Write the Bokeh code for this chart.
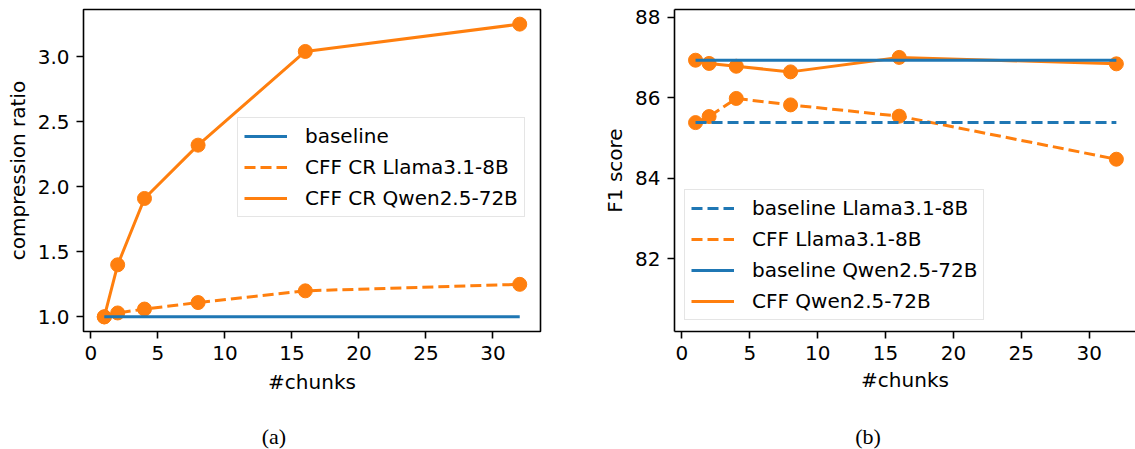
from bokeh.plotting import figure
from bokeh.models import (Range1d, FixedTicker, PrintfTickFormatter, Legend,
                          LegendItem, LinearAxis, Div)
from bokeh.layouts import row, column
from bokeh.embed import file_html
from bokeh.resources import INLINE

# ---------------- data ----------------
chunks = [1, 2, 4, 8, 16, 32]

# (a) compression ratio
cr_baseline = [1.0, 1.0, 1.0, 1.0, 1.0, 1.0]
cr_llama = [1.00, 1.03, 1.06, 1.11, 1.20, 1.25]
cr_qwen = [1.00, 1.40, 1.91, 2.32, 3.04, 3.25]

# (b) F1 score
f1_base_llama = [85.38, 85.38, 85.38, 85.38, 85.38, 85.38]
f1_cff_llama = [85.38, 85.53, 85.98, 85.82, 85.54, 84.47]
f1_base_qwen = [86.93, 86.93, 86.93, 86.93, 86.93, 86.93]
f1_cff_qwen = [86.93, 86.85, 86.78, 86.64, 87.00, 86.84]

x_ticks = [0, 5, 10, 15, 20, 25, 30]
cr_ticks = [1.0, 1.5, 2.0, 2.5, 3.0]
f1_ticks = [82, 84, 86, 88]

legend_a = ["baseline", "CFF CR Llama3.1-8B", "CFF CR Qwen2.5-72B"]
legend_b = ["baseline Llama3.1-8B", "CFF Llama3.1-8B",
            "baseline Qwen2.5-72B", "CFF Qwen2.5-72B"]
captions = ["(a)", "(b)"]

# ---------------- style ----------------
BLUE = "#1f77b4"
ORANGE = "#ff7f0e"
FONT = "DejaVu Sans"
FS = "20px"
LW = 3
DASH = "11 5"
MS = 14


def style_axes(p):
    for ax in p.axis:
        ax.major_label_text_font = FONT
        ax.major_label_text_font_size = FS
        ax.major_label_text_color = "black"
        ax.axis_label_text_font = FONT
        ax.axis_label_text_font_size = FS
        ax.axis_label_text_font_style = "normal"
        ax.axis_label_text_color = "black"
        ax.major_tick_out = 7
        ax.major_tick_in = 0
        ax.minor_tick_out = 0
        ax.minor_tick_in = 0
        ax.major_tick_line_width = 1.6
        ax.major_tick_line_color = "black"
        ax.major_label_standoff = 7
        ax.axis_line_width = 1.6
        ax.axis_line_color = "black"
    p.xgrid.visible = False
    p.ygrid.visible = False
    p.background_fill_color = "white"
    p.border_fill_color = "white"


def make_legend(items, loc):
    return Legend(items=items, location=loc, label_text_font=FONT,
                  label_text_font_size=FS, label_text_color="black",
                  glyph_width=43, glyph_height=20, label_height=20,
                  label_standoff=18, spacing=7, padding=6, margin=0,
                  border_line_color="#cccccc", border_line_width=1.5,
                  background_fill_color="white", background_fill_alpha=0.8)


def caption_div(text, width, left, inner_width):
    html = ('<div style="margin-left:%dpx; width:%dpx; padding-top:16px; '
            'font-family:\'Liberation Serif\', serif; font-size:22px; '
            'line-height:22px; text-align:center; color:black;">%s</div>'
            % (left, inner_width, text))
    return Div(text=html, width=width, height=39, margin=0)


# ---------------- (a) ----------------
p1 = figure(width=560, height=410, x_range=Range1d(-0.55, 33.55),
            y_range=Range1d(0.8875, 3.3625),
            min_border_left=83, min_border_right=20, min_border_top=9,
            min_border_bottom=78, toolbar_location=None,
            output_backend="svg")
p1.outline_line_color = "black"
p1.outline_line_width = 1.6

r_llama = p1.line(chunks, cr_llama, line_color=ORANGE, line_width=LW,
                  line_dash=DASH)
p1.scatter(chunks, cr_llama, size=MS, fill_color=ORANGE, line_color=ORANGE,
           line_width=1)
r_qwen = p1.line(chunks, cr_qwen, line_color=ORANGE, line_width=LW)
p1.scatter(chunks, cr_qwen, size=MS, fill_color=ORANGE, line_color=ORANGE,
           line_width=1)
r_base = p1.line(chunks, cr_baseline, line_color=BLUE, line_width=LW)

p1.xaxis.ticker = FixedTicker(ticks=x_ticks)
p1.yaxis.ticker = FixedTicker(ticks=cr_ticks)
p1.yaxis.formatter = PrintfTickFormatter(format="%.1f")
p1.xaxis.axis_label = "#chunks"
p1.yaxis.axis_label = "compression ratio"
style_axes(p1)
p1.xaxis.axis_label_standoff = 7
p1.yaxis.axis_label_standoff = 5
for ax in p1.axis:
    ax.axis_line_color = None

p1.add_layout(make_legend([
    LegendItem(label=legend_a[0], renderers=[r_base]),
    LegendItem(label=legend_a[1], renderers=[r_llama]),
    LegendItem(label=legend_a[2], renderers=[r_qwen]),
], (154, 114)))

# ---------------- (b) ----------------
p2 = figure(width=575, height=410, x_range=Range1d(-0.55, 33.41),
            y_range=Range1d(80.19, 88.19),
            min_border_left=114, min_border_right=0, min_border_top=4,
            min_border_bottom=79, toolbar_location=None,
            output_backend="svg")
p2.outline_line_color = None

rb_cff_l = p2.line(chunks, f1_cff_llama, line_color=ORANGE, line_width=LW,
                   line_dash=DASH)
p2.scatter(chunks, f1_cff_llama, size=MS, fill_color=ORANGE,
           line_color=ORANGE, line_width=1)
rb_cff_q = p2.line(chunks, f1_cff_qwen, line_color=ORANGE, line_width=LW)
p2.scatter(chunks, f1_cff_qwen, size=MS, fill_color=ORANGE,
           line_color=ORANGE, line_width=1)
rb_base_l = p2.line(chunks, f1_base_llama, line_color=BLUE, line_width=LW,
                    line_dash=DASH)
rb_base_q = p2.line(chunks, f1_base_qwen, line_color=BLUE, line_width=LW)

p2.xaxis.ticker = FixedTicker(ticks=x_ticks)
p2.yaxis.ticker = FixedTicker(ticks=f1_ticks)
p2.yaxis.formatter = PrintfTickFormatter(format="%d")
p2.xaxis.axis_label = "#chunks"
p2.yaxis.axis_label = "F1 score"

top_axis = LinearAxis(ticker=FixedTicker(ticks=[]))
p2.add_layout(top_axis, "above")
style_axes(p2)
top_axis.major_tick_out = 0
top_axis.major_label_standoff = 0
top_axis.major_label_text_font_size = "0px"
p2.xaxis[0].axis_label_standoff = 7
p2.yaxis.axis_label_standoff = 5

p2.add_layout(make_legend([
    LegendItem(label=legend_b[0], renderers=[rb_base_l]),
    LegendItem(label=legend_b[1], renderers=[rb_cff_l]),
    LegendItem(label=legend_b[2], renderers=[rb_base_q]),
    LegendItem(label=legend_b[3], renderers=[rb_cff_q]),
], (10, 11)))

cap_a = caption_div(captions[0], 560, 0, 548)
cap_b = caption_div(captions[1], 575, 41, 534)

layout = column(row(p1, p2), row(cap_a, cap_b))

open("out.html", "w").write(file_html(layout, INLINE))
